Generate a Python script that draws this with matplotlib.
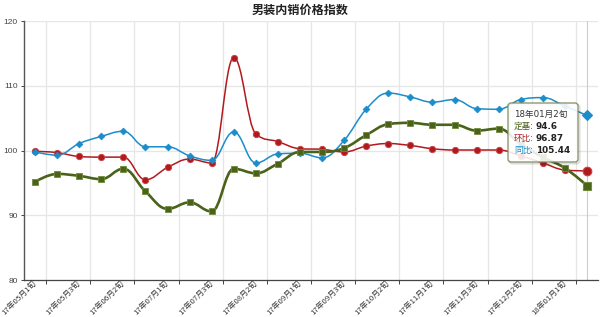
import matplotlib
matplotlib.use('Agg')
import matplotlib.pyplot as plt
from matplotlib.path import Path
from matplotlib.patches import PathPatch, FancyBboxPatch
import numpy as np

plt.rcParams['font.family'] = ['DejaVu Sans', 'Noto Sans CJK SC']

# 数据
categories = ['17年05月1旬', '17年05月2旬', '17年05月3旬', '17年06月1旬', '17年06月2旬',
              '17年06月3旬', '17年07月1旬', '17年07月2旬', '17年07月3旬', '17年08月1旬',
              '17年08月2旬', '17年08月3旬', '17年09月1旬', '17年09月2旬', '17年09月3旬',
              '17年10月1旬', '17年10月2旬', '17年10月3旬', '17年11月1旬', '17年11月2旬',
              '17年11月3旬', '17年12月1旬', '17年12月2旬', '17年12月3旬', '18年01月1旬',
              '18年01月2旬']
dingji = [95.2, 96.4, 96.1, 95.6, 97.2, 93.7, 91.0, 92.0, 90.6, 97.2, 96.5, 98.0, 99.8,
          99.8, 100.4, 102.4, 104.1, 104.3, 104.0, 104.0, 103.1, 103.4, 101.0, 99.0, 97.3, 94.6]
huanbi = [99.9, 99.7, 99.1, 99.0, 99.0, 95.5, 97.4, 98.7, 98.1, 114.4, 102.6, 101.4, 100.3,
          100.2, 99.8, 100.7, 101.1, 100.8, 100.3, 100.1, 100.1, 100.1, 99.2, 98.1, 97.0, 96.87]
tongbi = [99.8, 99.3, 101.1, 102.2, 103.0, 100.6, 100.6, 99.2, 98.5, 102.9, 98.1, 99.5, 99.6,
          98.9, 101.6, 106.4, 108.9, 108.3, 107.5, 107.9, 106.5, 106.4, 107.9, 108.2, 106.9, 105.44]
yticks = [80, 90, 100, 110, 120]


def spline_path(xs, ys, smoothing=1.5):
    # 样条曲线 (与 highcharts spline 相同的控制点算法)
    n = len(xs)
    lc = [None] * n
    rc = [None] * n
    d = smoothing + 1
    for i in range(1, n - 1):
        x, y = xs[i], ys[i]
        lx, ly = xs[i - 1], ys[i - 1]
        nx, ny = xs[i + 1], ys[i + 1]
        lcx = (smoothing * x + lx) / d
        lcy = (smoothing * y + ly) / d
        rcx = (smoothing * x + nx) / d
        rcy = (smoothing * y + ny) / d
        corr = (rcy - lcy) * (rcx - x) / (rcx - lcx) + y - rcy
        lcy += corr
        rcy += corr
        if lcy > ly and lcy > y:
            lcy = max(ly, y); rcy = 2 * y - lcy
        elif lcy < ly and lcy < y:
            lcy = min(ly, y); rcy = 2 * y - lcy
        if rcy > ny and rcy > y:
            rcy = max(ny, y); lcy = 2 * y - rcy
        elif rcy < ny and rcy < y:
            rcy = min(ny, y); lcy = 2 * y - rcy
        lc[i] = (lcx, lcy)
        rc[i] = (rcx, rcy)
    verts = [(xs[0], ys[0])]
    codes = [Path.MOVETO]
    for i in range(1, n):
        c1 = rc[i - 1] or (xs[i - 1], ys[i - 1])
        c2 = lc[i] or (xs[i], ys[i])
        verts += [c1, c2, (xs[i], ys[i])]
        codes += [Path.CURVE4] * 3
    return Path(verts, codes)


x = np.arange(len(categories))

fig = plt.figure(figsize=(6, 3.17), dpi=100)
ax = fig.add_axes([0.04, 0.1167, 0.9567, 0.8161])

series = [
    (huanbi, '#b01a1e', '#c84045', 'o', 4.6, 6.2, 1.1),
    (tongbi, '#1b8dca', '#1b8dca', 'D', 3.4, 4.6, 1.1),
    (dingji, '#4a6219', '#6f8a3a', 's', 4.6, 6.0, 1.9),
]
for vals, col, edge, mk, ms, ms_last, lw in series:
    ax.add_patch(PathPatch(spline_path(x, vals), facecolor='none', edgecolor=col,
                           lw=lw, capstyle='round', joinstyle='round', zorder=3))
    ax.plot(x[:-1], vals[:-1], ls='none', marker=mk, ms=ms, mfc=col, mec=edge,
            mew=0.6, zorder=4)
    ax.plot(x[-1:], vals[-1:], ls='none', marker=mk, ms=ms_last, mfc=col, mec=edge,
            mew=0.8, zorder=4)

# 十字准线
ax.axvline(x[-1], color='#cccccc', lw=0.8, zorder=1)

ax.set_xlim(-0.5, len(categories) - 0.5)
ax.set_ylim(80, 120)
ax.set_yticks(yticks)
ax.set_yticklabels([str(v) for v in yticks], fontsize=6, color='#444444',
                   family='Liberation Sans')
ax.set_xticks(x[::2])
ax.set_xticklabels(categories[::2], rotation=45, ha='right', va='center',
                   rotation_mode='anchor', fontsize=5.6, color='#333333',
                   family='Noto Sans CJK SC')
ax.set_xticks(x[::2] + 0.5, minor=True)
ax.tick_params(axis='x', which='major', length=0, pad=1.5)
ax.tick_params(axis='x', which='minor', length=3, width=0.7, color='#444444')
ax.tick_params(axis='y', length=2.5, width=0.7, color='#444444', pad=2)
ax.grid(True, which='minor', axis='x', color='#e6e6e6', lw=0.9, zorder=0)
ax.grid(True, which='major', axis='y', color='#e6e6e6', lw=0.9, zorder=0)
ax.set_axisbelow(True)
for s in ['top', 'right']:
    ax.spines[s].set_visible(False)
ax.spines['left'].set_color('#555555')
ax.spines['left'].set_linewidth(1.0)
ax.spines['bottom'].set_color('#444444')
ax.spines['bottom'].set_linewidth(0.9)

fig.text(0.5, 0.968, '男装内销价格指数', ha='center', va='center', fontsize=8.7,
         fontweight='bold', family='Noto Sans CJK SC', color='#222222')

# 提示框
bx, by, bw, bh = 508 / 600, 1 - 162 / 317, 70 / 600, 59 / 317
shadow = FancyBboxPatch((bx + 1.5 / 600, by - 1.5 / 317), bw, bh,
                        boxstyle='round,pad=0,rounding_size=0.005', mutation_aspect=1.89,
                        transform=fig.transFigure, fc='none', ec='#00000022', lw=1.5,
                        zorder=9)
box = FancyBboxPatch((bx, by), bw, bh, boxstyle='round,pad=0,rounding_size=0.005',
                     mutation_aspect=1.89, transform=fig.transFigure, fc='#ffffff',
                     alpha=0.88, ec='#7f8a60', lw=1.0, zorder=10)
fig.add_artist(shadow)
fig.add_artist(box)
fig.text(514 / 600, 1 - 114 / 317, categories[-1], fontsize=6.2, color='#333333',
         va='center', ha='left', zorder=11)
rows = [('定基', dingji[-1], '#4a6219'), ('环比', huanbi[-1], '#b01a1e'),
        ('同比', tongbi[-1], '#1b8dca')]
for k, (name, val, col) in enumerate(rows):
    yy = 1 - (126.7 + 12.1 * k) / 317
    fig.text(514 / 600, yy, name, fontsize=6.2, color=col, va='center', ha='left',
             family='Noto Sans CJK SC', zorder=11)
    fig.text(530 / 600, yy, ':', fontsize=6.2, color='#333333', va='center', ha='left',
             zorder=11)
    fig.text(536 / 600, yy, f'{val}', fontsize=6.4, fontweight='bold', color='#222222',
             va='center', ha='left', zorder=11)

plt.savefig('out.png', dpi=100)
